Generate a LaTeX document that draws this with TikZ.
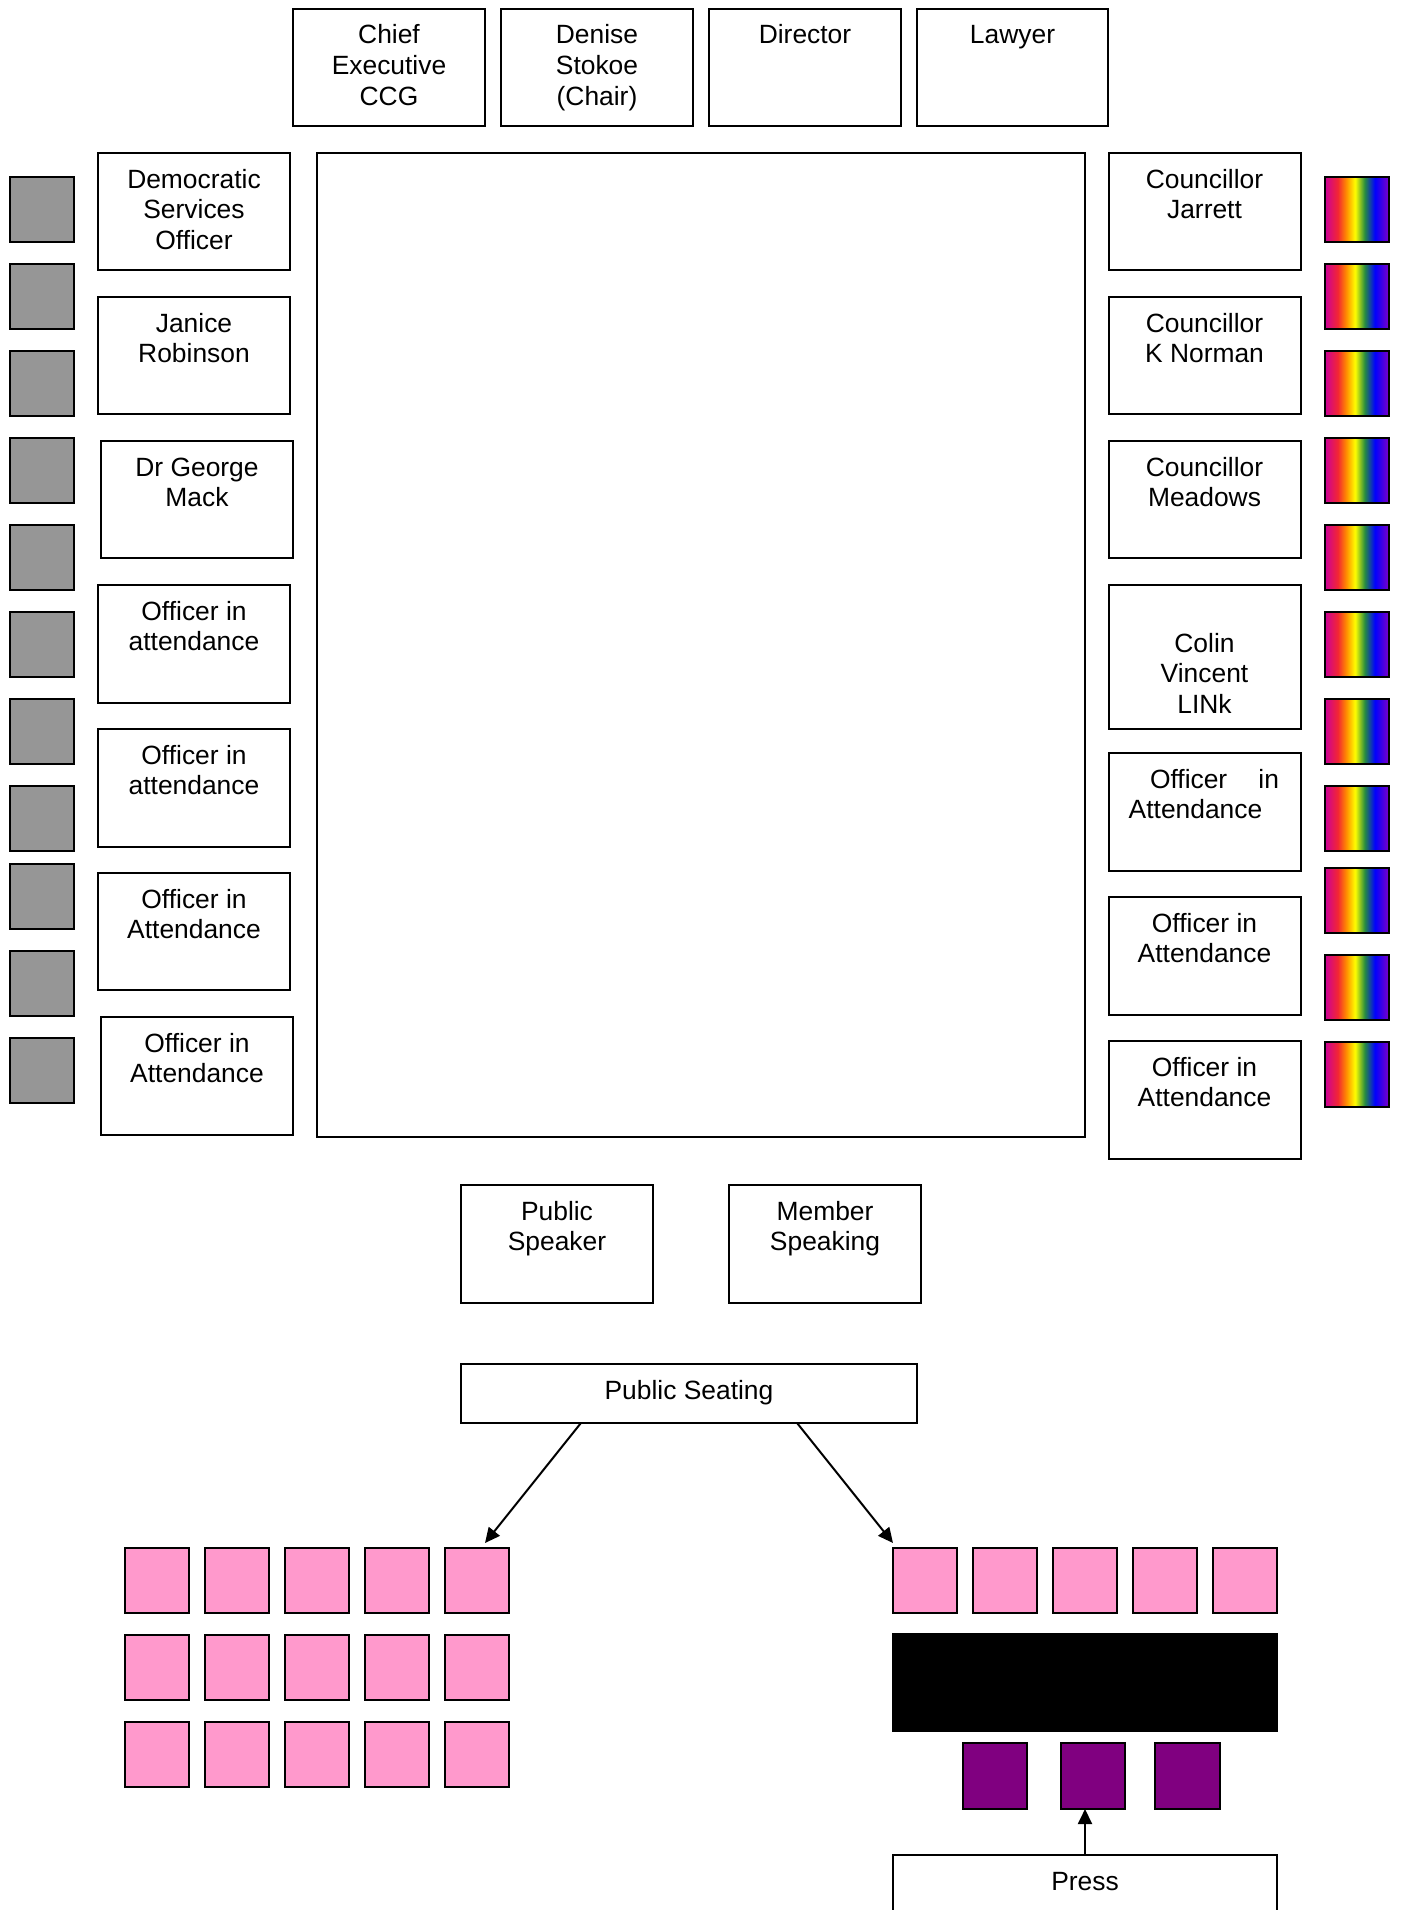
\documentclass[tikz,border=0pt]{standalone}
\usepackage{fontspec}
\setmainfont{Liberation Sans}
\usetikzlibrary{arrows.meta,calc}
\definecolor{sqgray}{HTML}{969696}
\definecolor{sqpink}{HTML}{FF99CC}
\definecolor{sqpurple}{HTML}{800080}
\pgfdeclarehorizontalshading{rainbowshade}{100bp}{
 rgb(0bp)=(0.8,0,0.6);
 rgb(25bp)=(0.8,0,0.6);
 rgb(35bp)=(0.95,0.15,0.2);
 rgb(41.5bp)=(1,0.55,0);
 rgb(48.5bp)=(1,1,0);
 rgb(56bp)=(0.15,0.55,0.25);
 rgb(64bp)=(0,0,1);
 rgb(75bp)=(0.5,0,0.78);
 rgb(100bp)=(0.5,0,0.78)}
\tikzset{
 frame/.style={draw=black,line width=1pt,rectangle,inner sep=0pt,outer sep=0pt,font=\fontsize{13.2}{15.3}\selectfont},
 graysq/.style={frame,fill=sqgray},
 pinksq/.style={frame,fill=sqpink},
 purplesq/.style={frame,fill=sqpurple},
 rainbowsq/.style={frame,shading=rainbowshade},
 arr/.style={line width=1pt,-{Triangle[length=7.5pt,width=7pt]}}
}
% name, x0, y0, x1, y1 in reference pixels, first-baseline offset (pt), style, text
\newcommand{\bx}[8]{%
 \pgfmathsetmacro{\bxw}{(#4-#2)/2}%
 \pgfmathsetmacro{\bxh}{(#5-#3)/2}%
 \node[#7,anchor=north west,minimum width=\bxw pt,minimum height=\bxh pt] (#1) at (#2,#3)
  {\parbox[c][\bxh pt][t]{\bxw pt}{\centering\rule{0pt}{#6pt}#8}};}
\newcommand{\sq}[6]{%
 \pgfmathsetmacro{\bxw}{(#4-#2)/2}%
 \pgfmathsetmacro{\bxh}{(#5-#3)/2}%
 \node[#6,anchor=north west,minimum width=\bxw pt,minimum height=\bxh pt] (#1) at (#2,#3) {};}
\begin{document}
\begin{tikzpicture}[x=0.5pt,y=-0.5pt]
\useasboundingbox (0,0) rectangle (1401,1910);
% top row
\bx{chief}{293}{9}{485}{126}{17.5}{frame}{Chief\\Executive\\CCG}
\bx{denise}{501}{9}{693}{126}{17.5}{frame}{Denise\\Stokoe\\(Chair)}
\bx{director}{709}{9}{901}{126}{17.5}{frame}{Director}
\bx{lawyer}{917}{9}{1108}{126}{17.5}{frame}{Lawyer}
% left column
\bx{dso}{98}{153}{290}{270}{17.7}{frame}{Democratic\\Services\\Officer}
\bx{janice}{98}{297}{290}{414}{17.5}{frame}{Janice\\Robinson}
\bx{george}{101}{441}{293}{558}{17.5}{frame}{Dr George\\Mack}
\bx{offa}{98}{585}{290}{703}{17.5}{frame}{Officer in\\attendance}
\bx{offb}{98}{729}{290}{847}{17.5}{frame}{Officer in\\attendance}
\bx{offc}{98}{873}{290}{990}{17.5}{frame}{Officer in\\Attendance}
\bx{offd}{101}{1017}{293}{1135}{17.5}{frame}{Officer in\\Attendance}
% centre
\sq{table}{317}{153}{1084.5}{1137}{frame}
% right column
\bx{jarrett}{1108.5}{153}{1300.5}{270}{17.7}{frame}{Councillor\\Jarrett}
\bx{norman}{1108.5}{297}{1300.5}{414}{17.5}{frame}{Councillor\\K Norman}
\bx{meadows}{1108.5}{441}{1300.5}{558}{17.5}{frame}{Councillor\\Meadows}
\bx{colin}{1108.5}{585}{1300.5}{729}{33.5}{frame}{Colin\\Vincent\\LINk}
\bx{offe}{1108.5}{753}{1300.5}{871}{17.5}{frame}{\hspace*{10pt}\makebox[64.5pt][s]{Officer\hfill in}\\Attendance\hspace*{9pt}}
\bx{offf}{1108.5}{897}{1300.5}{1015}{17.5}{frame}{Officer in\\Attendance}
\bx{offg}{1108.5}{1041}{1300.5}{1159}{17.5}{frame}{Officer in\\Attendance}
% gray squares
\foreach \n/\y in {1/177,2/264,3/351,4/438,5/525,6/612,7/699,8/786,9/864,10/951,11/1038}
 {\sq{gray\n}{10}{\y}{74}{\y+65}{graysq}}
% rainbow squares
\foreach \n/\y in {1/177,2/264,3/351,4/438,5/525,6/612,7/699,8/786,9/868,10/955,11/1042}
 {\sq{rb\n}{1325}{\y}{1389}{\y+65}{rainbowsq}}
% speakers
\bx{pubspk}{461}{1185}{653}{1303}{17.5}{frame}{Public\\Speaker}
\bx{memspk}{729}{1185}{921}{1303}{17.5}{frame}{Member\\Speaking}
\bx{seating}{461}{1364}{917}{1423}{17.5}{frame}{Public Seating}
% pink left block
\foreach \r/\y in {a/1548,b/1635,c/1722}
 \foreach \c/\x in {1/125,2/205,3/285,4/365,5/445}
  {\sq{pl\r\c}{\x}{\y}{\x+64}{\y+65}{pinksq}}
% pink right row
\foreach \c/\x in {1/893,2/973,3/1053,4/1133,5/1213}
 {\sq{pr\c}{\x}{1548}{\x+64}{1613}{pinksq}}
\sq{blackbar}{892.5}{1634}{1277}{1731}{frame,fill=black}
\sq{pur1}{963}{1743}{1027}{1809}{purplesq}
\sq{pur2}{1061}{1743}{1125}{1809}{purplesq}
\sq{pur3}{1155}{1743}{1220}{1809}{purplesq}
\bx{press}{893}{1855}{1277}{1930}{17.5}{frame}{Press}
% connectors
\coordinate (seatL) at ($(seating.south west)!0.263!(seating.south east)$);
\coordinate (seatR) at ($(seating.south west)!0.737!(seating.south east)$);
\coordinate (pinkL) at ($(pla5.north)+(8,-5)$);
\coordinate (pinkR) at ($(pr1.north west)+(0,-5)$);
\draw[arr] (seatL) -- (pinkL);
\draw[arr] (seatR) -- (pinkR);
\draw[arr] (press.north) -- (press.north |- pur2.south);
\end{tikzpicture}
\end{document}
